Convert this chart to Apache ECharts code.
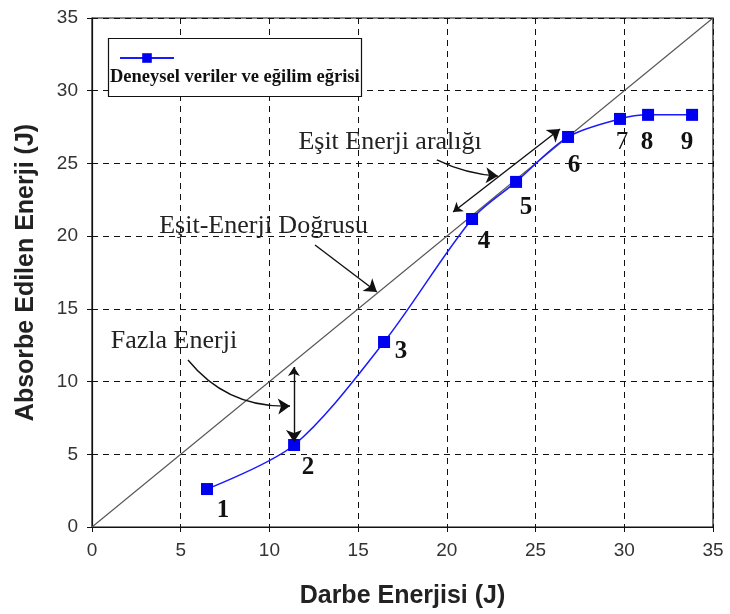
<!DOCTYPE html>
<html>
<head>
<meta charset="utf-8">
<script src="https://cdn.jsdelivr.net/npm/echarts@6/dist/echarts.min.js"></script>
<style>
  html, body { margin: 0; padding: 0; background: #fff; }
  #chart { width: 730px; height: 614px; }
</style>
</head>
<body>
<div id="chart"></div>
<script>
// Darbe enerjisi (x) ve absorbe edilen enerji (y), J
const impactEnergy   = [6.48, 11.39, 16.46, 21.42, 23.90, 26.83, 29.76, 31.34, 33.82];
const absorbedEnergy = [2.61, 5.64, 12.72, 21.18, 23.73, 26.82, 28.06, 28.34, 28.34];
const pointNames     = ['1', '2', '3', '4', '5', '6', '7', '8', '9'];
// label offsets (px) for the point numbers
const labelOffsets   = [[16, 22], [14, 23], [17, 10], [12, 23], [10, 26], [6, 29], [2, 24], [-1, 28], [-5, 28]];

// equal-energy reference line y = x
const equalLineX = [0, 35];
const equalLineY = [0, 35];

const axisTicks = [0, 5, 10, 15, 20, 25, 30, 35];

const legendName = 'Deneysel veriler ve eğilim eğrisi';

// annotation texts and their anchors (data units)
const noteTexts   = ['Eşit Enerji aralığı', 'Eşit-Enerji Doğrusu', 'Fazla Enerji'];
const noteAnchors = [[16.80, 26.47], [9.67, 20.70], [4.62, 12.79]];

// annotation arrows grouped by curvature: [from, to, double-headed]
const straightArrows = [
  [[12.57, 19.39], [16.06, 16.16], false],
  [[20.35, 21.66], [26.38, 27.37], true],
  [[11.38, 11.0], [11.38, 5.84], true]
];
const gentleArrows = [
  [[19.44, 25.24], [22.88, 24.13], false]
];
const bentArrows = [
  [[5.41, 11.48], [11.16, 8.32], false]
];

const chart = echarts.init(document.getElementById('chart'), null, { renderer: 'canvas' });

const serif = "'Liberation Serif', 'Times New Roman', serif";
const sans = "'Liberation Sans', Arial, sans-serif";

const dashed = { show: true, lineStyle: { color: '#111', type: [6, 5], width: 1 } };

const valueAxis = (name, gap, rotate) => ({
  type: 'value',
  min: axisTicks[0],
  max: axisTicks[axisTicks.length - 1],
  interval: 5,
  name: name,
  nameLocation: 'middle',
  nameGap: gap,
  nameRotate: rotate,
  nameTextStyle: { fontFamily: sans, fontWeight: 'bold', fontSize: 25, color: '#222' },
  axisLine: { show: true, lineStyle: { color: '#111', width: 1.2 } },
  axisTick: { show: true, length: 5, lineStyle: { color: '#111' } },
  axisLabel: { fontFamily: sans, fontSize: 19, color: '#333', margin: 14 },
  splitLine: dashed
});

// arrows drawn as a lines series on the cartesian grid
const arrowSeries = (list, curveness) => ({
  type: 'lines',
  coordinateSystem: 'cartesian2d',
  silent: true,
  z: 5,
  symbolSize: [9, 12],
  lineStyle: { color: '#111', width: 1.4, opacity: 1, curveness: curveness },
  data: list.map(a => ({
    coords: [a[0], a[1]],
    symbol: [a[2] ? 'arrow' : 'none', 'arrow']
  }))
});

chart.setOption({
  animation: false,
  backgroundColor: '#fff',
  grid: { left: 92, right: 17, top: 18, bottom: 87, show: true, borderColor: '#111', borderWidth: 1.2, backgroundColor: 'transparent' },
  xAxis: valueAxis('Darbe Enerjisi (J)', 57, 0),
  yAxis: valueAxis('Absorbe Edilen Enerji (J)', 53, 90),
  legend: {
    data: [legendName],
    left: 114, top: 47,
    itemWidth: 54, itemHeight: 12,
    formatter: () => '',
    z: 10
  },
  graphic: [
    {
      type: 'rect', z: 5,
      shape: { x: 108.5, y: 38.5, width: 253, height: 58 },
      style: { fill: '#fff', stroke: '#111', lineWidth: 1.2 }
    },
    {
      type: 'text', z: 6, x: 110, y: 77,
      style: { text: legendName, fontFamily: serif, fontWeight: 'bold', fontSize: 18.5, fill: '#111',
               verticalAlign: 'middle' }
    }
  ],
  series: [
    {
      name: 'Eşit-Enerji Doğrusu',
      type: 'line',
      data: equalLineX.map((x, i) => [x, equalLineY[i]]),
      symbol: 'none',
      lineStyle: { color: '#555', width: 1.1 },
      z: 3,
      markPoint: {
        silent: true,
        symbol: 'circle', symbolSize: 0,
        label: { show: true, position: 'inside', fontFamily: serif, fontSize: 26, color: '#222',
                 formatter: p => p.name },
        data: noteTexts.map((t, i) => ({ name: t, coord: noteAnchors[i] }))
      }
    },
    arrowSeries(straightArrows, 0),
    arrowSeries(gentleArrows, -0.1),
    arrowSeries(bentArrows, -0.25),
    {
      name: legendName,
      type: 'line',
      smooth: 0.3,
      data: impactEnergy.map((x, i) => ({
        value: [x, absorbedEnergy[i]],
        label: { offset: labelOffsets[i], fontWeight: pointNames[i] === '7' ? 'normal' : 'bold' }
      })),
      symbol: 'rect',
      symbolSize: 12,
      itemStyle: { color: '#0000f0' },
      lineStyle: { color: '#1a1aff', width: 1.5 },
      label: {
        show: true, position: 'inside',
        fontFamily: serif, fontWeight: 'bold', fontSize: 25, color: '#111',
        formatter: p => pointNames[p.dataIndex]
      },
      z: 4
    }
  ]
});
</script>
</body>
</html>
